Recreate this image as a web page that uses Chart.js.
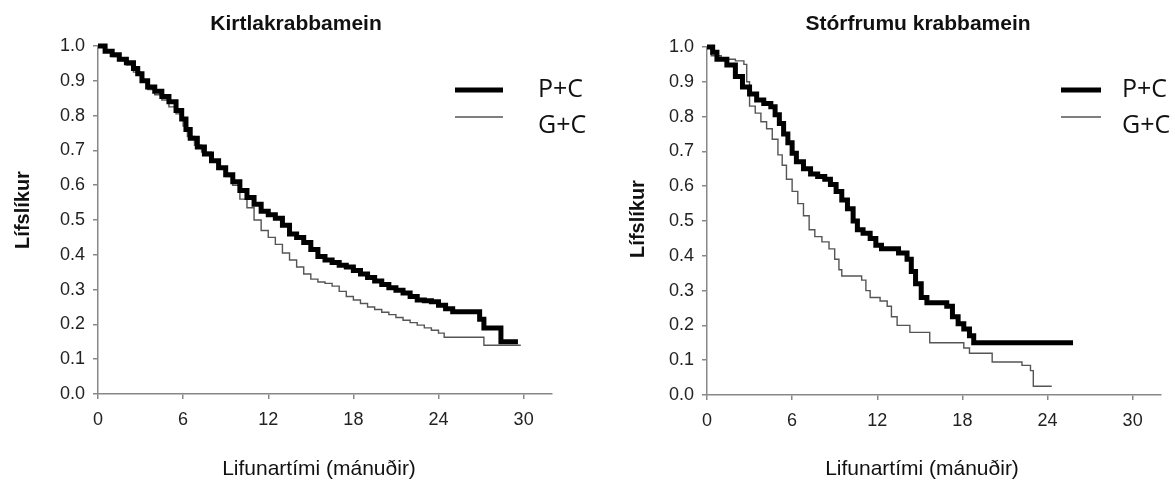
<!DOCTYPE html>
<html>
<head>
<meta charset="utf-8">
<script src="https://cdn.jsdelivr.net/npm/chart.js@4"></script>
<style>
  body { margin: 0; background: #fff; width: 1175px; height: 482px; position: relative; overflow: hidden; }
  canvas { position: absolute; top: 0; }
  #left { left: 0; }
  #right { left: 600px; }
</style>
</head>
<body>
<canvas id="left" width="600" height="482" style="width:600px;height:482px"></canvas>
<canvas id="right" width="575" height="482" style="width:575px;height:482px"></canvas>
<script>
// tick labels
const xTicks = [0, 6, 12, 18, 24, 30];
const seriesNames = ['P+C', 'G+C'];
const panelTitles = ['Kirtlakrabbamein', 'Stórfrumu krabbamein'];

// Kirtlakrabbamein, P+C (months, survival)
const kirtlaPcTime = [0, 0.5, 1, 1.5, 2, 2.5, 2.8, 3.1, 3.5, 4, 4.5, 5, 5.5, 5.9, 6.2, 6.5, 7, 7.5, 8, 8.5, 9, 9.5, 10, 10.5, 11, 11.5, 12, 12.5, 13, 13.5, 14, 14.5, 15, 15.5, 16, 16.5, 17, 17.5, 18, 18.5, 19, 19.5, 20, 20.5, 21, 21.5, 22, 22.5, 23, 23.5, 24, 24.5, 25, 26.9, 27.2, 28.4, 29.6];
const kirtlaPcSurv = [1, 0.985, 0.975, 0.962, 0.952, 0.935, 0.92, 0.9, 0.882, 0.87, 0.855, 0.84, 0.815, 0.79, 0.76, 0.735, 0.71, 0.69, 0.67, 0.65, 0.63, 0.61, 0.585, 0.565, 0.545, 0.525, 0.515, 0.505, 0.485, 0.46, 0.45, 0.435, 0.415, 0.395, 0.385, 0.378, 0.37, 0.365, 0.355, 0.345, 0.335, 0.325, 0.315, 0.305, 0.298, 0.29, 0.28, 0.27, 0.268, 0.265, 0.255, 0.245, 0.236, 0.215, 0.19, 0.15, 0.15];

// Kirtlakrabbamein, G+C
const kirtlaGcTime = [0, 0.5, 1, 1.5, 2, 2.5, 3, 3.5, 4, 4.5, 5, 5.5, 6, 6.3, 6.8, 7.3, 8, 8.5, 9, 9.5, 10, 10.5, 11, 11.5, 12, 12.5, 13, 13.5, 14, 14.5, 15, 15.5, 16, 16.5, 17, 17.5, 18, 18.5, 19, 19.5, 20, 20.5, 21, 21.5, 22, 22.5, 23, 23.5, 24, 24.4, 27.2, 29.8];
const kirtlaGcSurv = [1, 0.985, 0.97, 0.958, 0.945, 0.925, 0.9, 0.875, 0.86, 0.845, 0.825, 0.805, 0.77, 0.74, 0.715, 0.695, 0.67, 0.65, 0.625, 0.6, 0.56, 0.535, 0.5, 0.47, 0.45, 0.43, 0.405, 0.385, 0.365, 0.345, 0.33, 0.322, 0.318, 0.31, 0.295, 0.28, 0.27, 0.26, 0.25, 0.243, 0.235, 0.228, 0.22, 0.212, 0.205, 0.198, 0.19, 0.183, 0.175, 0.163, 0.14, 0.14];

// Stórfrumu krabbamein, P+C
const storPcTime = [0, 0.4, 0.7, 1.4, 2, 2.5, 3, 3.5, 4, 4.5, 4.8, 5.1, 5.4, 5.7, 6, 6.3, 6.8, 7.3, 7.8, 8.3, 8.7, 9.1, 9.5, 9.9, 10.3, 10.6, 11, 11.5, 11.9, 12.3, 13.5, 14.1, 14.4, 14.7, 15.1, 15.5, 16.9, 17.3, 17.7, 18.1, 18.5, 18.8, 25.8];
const storPcSurv = [1, 0.985, 0.965, 0.948, 0.915, 0.885, 0.865, 0.848, 0.838, 0.828, 0.805, 0.78, 0.75, 0.725, 0.695, 0.67, 0.65, 0.635, 0.628, 0.62, 0.605, 0.585, 0.56, 0.535, 0.5, 0.475, 0.465, 0.45, 0.43, 0.42, 0.408, 0.39, 0.355, 0.32, 0.28, 0.265, 0.255, 0.225, 0.205, 0.19, 0.17, 0.15, 0.15];

// Stórfrumu krabbamein, G+C
const storGcTime = [0, 0.3, 1, 2, 2.6, 2.8, 3, 3.4, 3.8, 4.2, 4.6, 5, 5.3, 5.6, 6, 6.4, 6.8, 7.2, 7.6, 8.1, 8.6, 9, 9.3, 9.5, 10.9, 11.2, 11.5, 12.2, 12.7, 13, 13.4, 14.3, 15.7, 18.1, 18.5, 20.1, 22.2, 22.8, 23, 24.3];
const storGcSurv = [1, 0.975, 0.965, 0.96, 0.95, 0.9, 0.83, 0.81, 0.785, 0.765, 0.735, 0.69, 0.66, 0.62, 0.585, 0.55, 0.515, 0.475, 0.455, 0.44, 0.42, 0.39, 0.36, 0.342, 0.33, 0.3, 0.28, 0.27, 0.255, 0.225, 0.2, 0.18, 0.15, 0.135, 0.12, 0.095, 0.085, 0.07, 0.025, 0.025];

function toPoints(t, s) {
  return t.map((v, i) => ({ x: v, y: s[i] }));
}

// titles, axis labels and legend drawn on top of each panel
const panelText = {
  id: 'panelText',
  afterDraw(chart, args, o) {
    const ctx = chart.ctx;
    ctx.save();
    ctx.fillStyle = '#111';
    ctx.textAlign = 'center';
    ctx.textBaseline = 'middle';
    ctx.font = 'bold 21px "Liberation Sans", Arial, sans-serif';
    ctx.fillText(o.title, o.titleX, o.titleY);

    ctx.font = 'bold 20px "Liberation Sans", Arial, sans-serif';
    ctx.save();
    ctx.translate(o.yLabelX, o.yLabelY);
    ctx.rotate(-Math.PI / 2);
    ctx.fillText('Lífslíkur', 0, 0);
    ctx.restore();

    ctx.font = '21px "Liberation Sans", Arial, sans-serif';
    ctx.fillText('Lifunartími (mánuðir)', o.xLabelX, o.xLabelY);

    // legend
    ctx.textAlign = 'left';
    ctx.font = '25px "Open Sans", sans-serif';
    const widths = [5, 1.5];
    const colors = ['#000', '#555'];
    const lineY = [o.legendY, o.legendY + 27];
    const textY = [o.legendY, o.legendY + 36];
    seriesNames.forEach((name, i) => {
      ctx.strokeStyle = colors[i];
      ctx.lineWidth = widths[i];
      ctx.beginPath();
      ctx.moveTo(o.legendX, lineY[i]);
      ctx.lineTo(o.legendX + o.legendLen, lineY[i]);
      ctx.stroke();
      ctx.fillStyle = '#111';
      ctx.fillText(name, o.legendTextX, textY[i]);
    });
    ctx.restore();
  }
};

function makePanel(id, pc, gc, yWidth, xHeight, pad, text) {
  new Chart(document.getElementById(id), {
    type: 'line',
    data: {
      datasets: [
        { label: seriesNames[0], data: pc, borderColor: '#000', borderWidth: 5, stepped: true, pointRadius: 0, clip: false, borderCapStyle: 'butt' },
        { label: seriesNames[1], data: gc, borderColor: '#555', borderWidth: 1.4, stepped: true, pointRadius: 0, clip: false }
      ]
    },
    options: {
      responsive: false,
      animation: false,
      layout: { padding: pad },
      plugins: {
        legend: { display: false },
        tooltip: { enabled: false },
        panelText: text
      },
      scales: {
        x: {
          type: 'linear',
          min: 0,
          max: 32,
          afterFit: s => { s.height = xHeight; },
          afterBuildTicks: s => { s.ticks = xTicks.map(v => ({ value: v })); },
          border: { color: '#888', width: 1.5 },
          grid: { drawOnChartArea: false, tickLength: 5, color: '#888', lineWidth: 1.5 },
          ticks: { padding: 10, color: '#222', font: { family: '"Liberation Sans", Arial, sans-serif', size: 18 } }
        },
        y: {
          min: 0,
          max: 1,
          afterFit: s => { s.width = yWidth; },
          border: { color: '#888', width: 1.5 },
          grid: { drawOnChartArea: false, tickLength: 5, color: '#888', lineWidth: 1.5 },
          ticks: { stepSize: 0.1, padding: 8, color: '#222', font: { family: '"Liberation Sans", Arial, sans-serif', size: 18 }, callback: v => v.toFixed(1) }
        }
      }
    },
    plugins: [panelText]
  });
}

makePanel('left', toPoints(kirtlaPcTime, kirtlaPcSurv), toPoints(kirtlaGcTime, kirtlaGcSurv), 98, 88,
  { left: 0, right: 48, top: 46, bottom: 0 },
  { title: panelTitles[0], titleX: 296, titleY: 24, yLabelX: 23, yLabelY: 210, xLabelX: 319, xLabelY: 469,
    legendX: 455, legendLen: 48, legendY: 90, legendTextX: 538 });

makePanel('right', toPoints(storPcTime, storPcSurv), toPoints(storGcTime, storGcSurv), 107, 87,
  { left: 0, right: 14, top: 47, bottom: 0 },
  { title: panelTitles[1], titleX: 318, titleY: 24, yLabelX: 38, yLabelY: 219, xLabelX: 322, xLabelY: 469,
    legendX: 461, legendLen: 40, legendY: 90, legendTextX: 522 });
</script>
</body>
</html>
